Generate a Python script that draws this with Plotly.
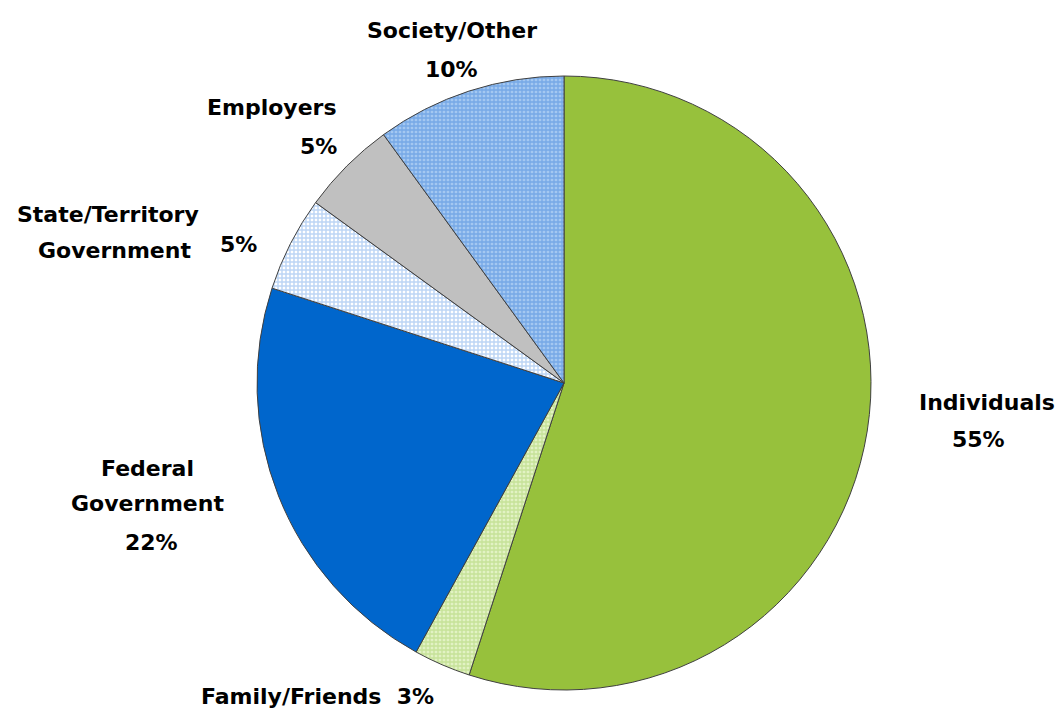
import plotly.graph_objects as go

# Funding sources, clockwise from 12 o'clock
sources = ["Individuals", "Family/Friends", "Federal Government",
           "State/Territory Government", "Employers", "Society/Other"]
shares = [55, 3, 22, 5, 5, 10]

fill_colors = ["#97C13C", "#E2F2C4", "#0066CC", "#FFFFFF", "#C0C0C0", "#A4C8F1"]
pattern_shapes = ["", "+", "", "+", "", "+"]
pattern_fg = ["#97C13C", "#A9D26C", "#0066CC", "#7CADEB", "#C0C0C0", "#4788DC"]
pattern_solidity = [0.3, 0.55, 0.3, 0.6, 0.3, 0.55]

W, H = 1059, 712
cx, cy, r = 564, 383, 307

fig = go.Figure(go.Pie(
    labels=sources,
    values=shares,
    sort=False,
    direction="clockwise",
    rotation=0,
    textinfo="none",
    hoverinfo="label+percent",
    showlegend=False,
    marker=dict(
        colors=fill_colors,
        line=dict(color="#404040", width=1),
        pattern=dict(shape=pattern_shapes, fgcolor=pattern_fg,
                     bgcolor=fill_colors, size=4, solidity=pattern_solidity,
                     fillmode="overlay"),
    ),
    domain=dict(x=[(cx - r) / W, (cx + r) / W],
                y=[(H - cy - r) / H, (H - cy + r) / H]),
))

# Slice labels: (text, x px, y px)
label_lines = [
    ("Society/Other", 452, 30), ("10%", 451, 69),
    ("Employers", 272, 107), ("5%", 318, 146),
    ("State/Territory", 108, 214), ("Government", 114, 250), ("5%", 238, 244),
    ("Federal", 147, 468), ("Government", 147, 504), ("22%", 151, 542),
    ("Individuals", 987, 402), ("55%", 978, 440),
    ("Family/Friends  3%", 317, 696),
]
for text, px, py in label_lines:
    fig.add_annotation(
        text=text, x=px / W, y=1 - py / H, xref="paper", yref="paper",
        showarrow=False, xanchor="center", yanchor="middle",
        font=dict(family="DejaVu Sans, Arial, sans-serif", size=22,
                  color="#000000", weight="bold"),
    )

fig.update_layout(
    width=W, height=H,
    margin=dict(l=0, r=0, t=0, b=0),
    paper_bgcolor="#FFFFFF",
    plot_bgcolor="#FFFFFF",
)

fig.write_html("out.html")
